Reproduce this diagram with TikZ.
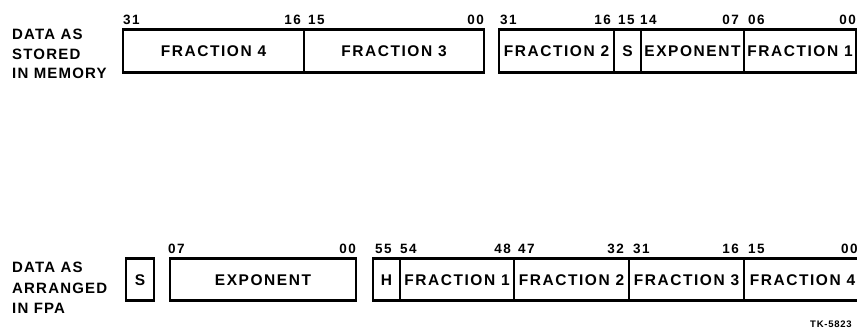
\documentclass[tikz,border=0pt]{standalone}
\usepackage{fontspec}
\setmainfont{Liberation Sans}[LetterSpace=8]
\newfontfamily\fieldfont{Liberation Sans}[LetterSpace=10]
\newfontfamily\bitfont{Liberation Sans}[LetterSpace=10]
\usetikzlibrary{positioning}

\begin{document}
\begin{tikzpicture}[x=1pt, y=-1pt,
  field/.style={draw, line width=1.6pt, minimum height=42.5pt, inner sep=0pt,
                outer sep=0pt, text height=11pt, text depth=0pt,
                font=\fieldfont\bfseries\fontsize{15.5}{18}\selectfont},
  outline/.style={line width=2.6pt},
  bitl/.style={anchor=south west, inner sep=0pt, yshift=5pt,
               text height=9.7pt, text depth=0pt,
               font=\bitfont\bfseries\fontsize{13.5}{16}\selectfont},
  bitr/.style={bitl, anchor=south east},
  caption/.style={anchor=north west, inner sep=0pt, align=left}
]
\useasboundingbox (0,0) rectangle (857,331);

% row 1: data as stored in memory
\node[caption, font=\bfseries\fontsize{15}{19.5}\selectfont] (memtxt) at (12,29)
  {DATA AS\\STORED\\IN MEMORY};
\node[field, anchor=west, minimum width=181pt] (mf4) at (123,51) {FRACTION 4};
\node[field, right=0pt of mf4, minimum width=180pt] (mf3) {FRACTION 3};
\node[field, right=15pt of mf3, minimum width=115pt] (mf2) {FRACTION 2};
\node[field, right=0pt of mf2, minimum width=27pt] (ms) {S};
\node[field, right=0pt of ms, minimum width=103pt] (mexp) {EXPONENT};
\node[field, right=0pt of mexp, minimum width=112pt] (mf1) {FRACTION 1};
\draw[outline] (mf4.north west) rectangle (mf3.south east);
\draw[outline] (mf2.north west) rectangle (mf1.south east);

% bit numbers, row 1
\node[bitl] at (mf4.north west) {31};
\node[bitr, xshift=-3pt] at (mf4.north east) {16};
\node[bitl, xshift=4pt] at (mf3.north west) {15};
\node[bitr] at (mf3.north east) {00};
\node[bitl, xshift=1pt] at (mf2.north west) {31};
\node[bitr, xshift=-3pt] at (mf2.north east) {16};
\node[bitl, xshift=4pt] at (ms.north west) {15};
\node[bitl, xshift=-1pt] at (mexp.north west) {14};
\node[bitr, xshift=-5pt] at (mexp.north east) {07};
\node[bitl, xshift=4pt] at (mf1.north west) {06};
\node[bitr] at (mf1.north east) {00};

% row 2: data as arranged in FPA
\node[caption, font=\bfseries\fontsize{15}{20.5}\selectfont] (fpatxt) at (12,262)
  {DATA AS\\ARRANGED\\IN FPA};
\node[field, anchor=west, minimum width=28pt] (fs) at (126,279.5) {S};
\node[field, right=16pt of fs, minimum width=186pt] (fexp) {EXPONENT};
\node[field, right=17pt of fexp, minimum width=27pt] (fh) {H};
\node[field, right=0pt of fh, minimum width=114pt] (ff1) {FRACTION 1};
\node[field, right=0pt of ff1, minimum width=115pt] (ff2) {FRACTION 2};
\node[field, right=0pt of ff2, minimum width=115pt] (ff3) {FRACTION 3};
\node[field, right=0pt of ff3, minimum width=117pt] (ff4) {FRACTION 4};
\draw[outline] (fs.north west) rectangle (fs.south east);
\draw[outline] (fexp.north west) rectangle (fexp.south east);
\draw[outline] (fh.north west) rectangle (ff4.south east);

% bit numbers, row 2
\node[bitl, xshift=-2pt] at (fexp.north west) {07};
\node[bitr] at (fexp.north east) {00};
\node[bitl, xshift=2pt] at (fh.north west) {55};
\node[bitl] at (ff1.north west) {54};
\node[bitr, xshift=-3pt] at (ff1.north east) {48};
\node[bitl, xshift=4pt] at (ff2.north west) {47};
\node[bitr, xshift=-5pt] at (ff2.north east) {32};
\node[bitl, xshift=4pt] at (ff3.north west) {31};
\node[bitr, xshift=-5pt] at (ff3.north east) {16};
\node[bitl, xshift=4pt] at (ff4.north west) {15};
\node[bitl, xshift=97pt] at (ff4.north west) {00};

\node[anchor=north west, inner sep=0pt, font=\bfseries\fontsize{9.5}{11}\selectfont]
  (tk) at (810,321) {TK-5823};
\end{tikzpicture}
\end{document}
